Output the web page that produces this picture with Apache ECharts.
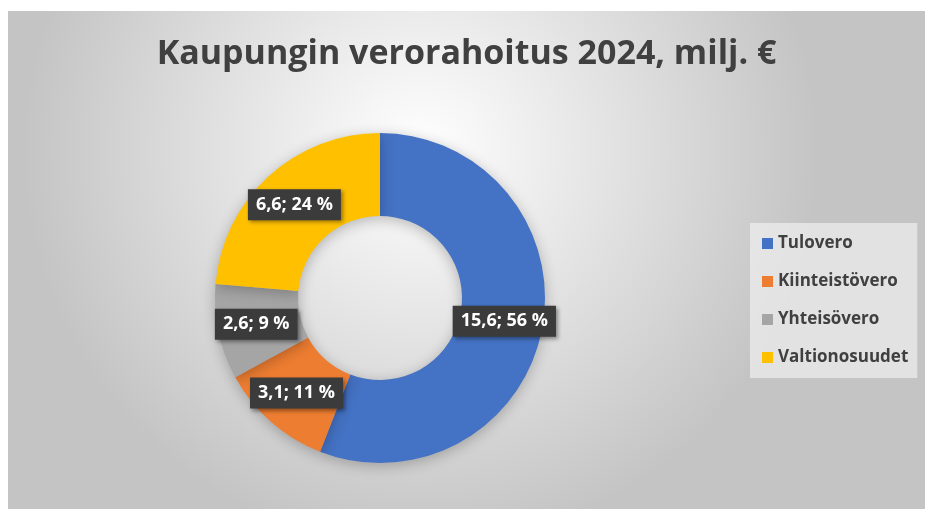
<!DOCTYPE html>
<html>
<head>
<meta charset="utf-8">
<script src="https://cdn.jsdelivr.net/npm/echarts@6/dist/echarts.min.js"></script>
<style>
  html, body { margin: 0; padding: 0; background: #fff; }
  #main { position: absolute; left: 8px; top: 11px; width: 917px; height: 498px; }
</style>
</head>
<body>
<div id="main"></div>
<script>
// verorahoitus 2024, milj. €
var categories = ['Tulovero', 'Kiinteistövero', 'Yhteisövero', 'Valtionosuudet'];
var values = [15.6, 3.1, 2.6, 6.6];
var colors = ['#4472C4', '#ED7D31', '#A5A5A5', '#FFC000'];

var myChart = echarts.init(document.getElementById('main'));

var pieData = categories.map(function (name, i) {
    return {name: name, value: values[i], itemStyle: {color: colors[i]}};
});

var option = {
    backgroundColor: {
        type: 'radial', x: 0.45, y: 0.28, r: 0.8,
        colorStops: [
            {offset: 0, color: '#ffffff'},
            {offset: 1, color: '#c4c4c4'}
        ]
    },
    title: {
        text: 'Kaupungin verorahoitus 2024, milj. €',
        left: 'center',
        top: 21,
        textStyle: {
            fontFamily: 'Open Sans',
            fontWeight: 'bold',
            fontSize: 34,
            color: '#404040'
        }
    },
    legend: {
        orient: 'vertical',
        left: 742,
        top: 212,
        padding: [12, 9, 12, 12],
        backgroundColor: 'rgba(240,240,240,0.7)',
        icon: 'rect',
        itemWidth: 11,
        itemHeight: 11,
        itemGap: 21,
        data: categories,
        textStyle: {
            fontFamily: 'Open Sans',
            fontWeight: 'bold',
            fontSize: 17,
            color: '#404040'
        }
    },
    series: [{
        type: 'pie',
        center: [372, 287],
        radius: [82, 165],
        startAngle: 90,
        clockwise: true,
        avoidLabelOverlap: false,
        itemStyle: {
            shadowBlur: 14,
            shadowColor: 'rgba(0,0,0,0.25)',
            shadowOffsetY: 3
        },
        label: {
            show: true,
            position: 'inside',
            formatter: function (p) {
                return p.value.toFixed(1).replace('.', ',') + '; ' + Math.round(p.percent) + ' %';
            },
            fontFamily: 'Open Sans',
            fontWeight: 'bold',
            fontSize: 18,
            color: '#ffffff',
            backgroundColor: '#3b3b3b',
            padding: [7, 8, 6, 8],
            shadowBlur: 4,
            shadowColor: 'rgba(0,0,0,0.4)',
            shadowOffsetX: 2,
            shadowOffsetY: 2
        },
        labelLine: {show: false},
        emphasis: {scale: false},
        data: pieData
    }]
};

myChart.setOption(option);
</script>
</body>
</html>
